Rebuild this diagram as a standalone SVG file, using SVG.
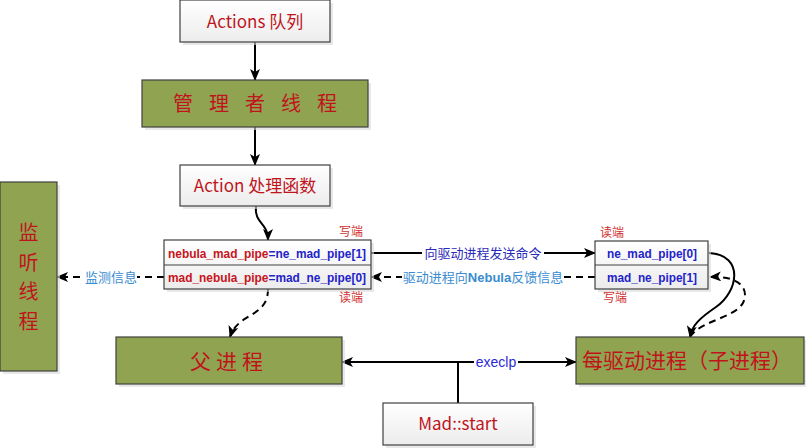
<svg xmlns="http://www.w3.org/2000/svg" width="806" height="448" viewBox="0 0 806 448">
<defs>
<linearGradient id="gw" x1="0" y1="0" x2="0" y2="1">
<stop offset="0" stop-color="#ffffff"/>
<stop offset="1" stop-color="#ececec"/>
</linearGradient>
<marker id="ah" markerWidth="12" markerHeight="10" refX="11" refY="5" orient="auto" markerUnits="userSpaceOnUse">
<path d="M0,0 L12,5 L0,10 L3,5 Z" fill="#000"/>
</marker>
</defs>
<style>
.wbox{fill:url(#gw);stroke:#404040;stroke-width:1.2}
.gbox{fill:#8fa351;stroke:#404040;stroke-width:1.2}
.shadow{fill:#d8d8d8;opacity:0.6}
.t{font-family:"Noto Sans CJK SC","Liberation Sans",sans-serif;fill:#c0141c}
.pipe{font-family:"Liberation Sans","Noto Sans CJK SC",sans-serif;font-weight:bold;font-size:12px}
.red{fill:#c8141c}
.blue{fill:#2323c8}
.lbl{font-family:"Noto Sans CJK SC",sans-serif;font-size:12px;fill:#d03030}
.ln{stroke:#000;stroke-width:2;fill:none}
.dash{stroke:#000;stroke-width:2;fill:none;stroke-dasharray:7,5}
</style>

<g id="connectors">
<line class="ln" x1="255" y1="42" x2="255" y2="80" marker-end="url(#ah)"/>
<line class="ln" x1="255" y1="127" x2="255" y2="165" marker-end="url(#ah)"/>
<path class="ln" d="M256,206 C254,224 268,222 268,240" marker-end="url(#ah)"/>
<path class="dash" d="M268,289 C268,318 238,312 230,337" marker-end="url(#ah)"/>
<line class="dash" x1="164" y1="277" x2="57" y2="277" marker-end="url(#ah)"/>
<line class="ln" x1="371" y1="253" x2="595" y2="253" marker-end="url(#ah)"/>
<line class="dash" x1="595" y1="277" x2="371" y2="277" marker-end="url(#ah)"/>
<path class="ln" d="M709,253 C745,255 738,292 716,307 C700,318 692,325 690,337" marker-end="url(#ah)"/>
<path class="dash" d="M690,337 C702,318 745,318 745,295 C745,282 730,276 710,277" marker-end="url(#ah)"/>
<line class="ln" x1="458" y1="362" x2="342" y2="362" marker-end="url(#ah)"/>
<line class="ln" x1="458" y1="362" x2="576" y2="362" marker-end="url(#ah)"/>
<line class="ln" x1="458" y1="362" x2="458" y2="403"/>
<rect x="85" y="268" width="52" height="18" fill="#fff"/>
<text x="111" y="281.5" font-family="Noto Sans CJK SC,sans-serif" font-size="13" fill="#3a8cd0" text-anchor="middle">监测信息</text>
<rect x="422" y="244" width="122" height="18" fill="#fff"/>
<text x="483" y="257.5" font-family="Noto Sans CJK SC,sans-serif" font-size="13" fill="#2a2ab8" text-anchor="middle">向驱动进程发送命令</text>
<rect x="402" y="268" width="162" height="18" fill="#fff"/>
<text x="483" y="281.5" font-family="Noto Sans CJK SC,sans-serif" font-size="13" fill="#3a8cd0" text-anchor="middle">驱动进程向<tspan font-family="Liberation Sans,sans-serif" font-weight="bold">Nebula</tspan>反馈信息</text>
<rect x="474" y="353" width="44" height="18" fill="#fff"/>
<text x="496" y="367" font-family="Liberation Sans,sans-serif" font-size="14" fill="#2a2ad8" text-anchor="middle">execlp</text>
</g>

<g id="actions-queue">
<rect class="shadow" x="183" y="3" width="150" height="42"/>
<rect class="wbox" x="180" y="0" width="150" height="42"/>
<text class="t" x="255" y="27.5" font-size="17" text-anchor="middle">Actions 队列</text>
</g>

<g id="manager-thread">
<rect class="shadow" x="145" y="83" width="226" height="47"/>
<rect class="gbox" x="142" y="80" width="226" height="47"/>
<text class="t" x="263" y="111" font-size="20" letter-spacing="16" text-anchor="middle">管理者线程</text>
</g>

<g id="action-handler">
<rect class="shadow" x="183" y="168" width="150" height="41"/>
<rect class="wbox" x="180" y="165" width="150" height="41"/>
<text class="t" x="255" y="192" font-size="17" text-anchor="middle">Action 处理函数</text>
</g>

<g id="monitor-thread">
<rect class="shadow" x="3" y="185" width="57" height="189"/>
<rect class="gbox" x="0" y="182" width="57" height="189"/>
<text class="t" font-size="20" text-anchor="middle"><tspan x="28.5" y="240">监</tspan><tspan x="28.5" y="269.5">听</tspan><tspan x="28.5" y="299">线</tspan><tspan x="28.5" y="328.5">程</tspan></text>
</g>

<g id="pipe-left">
<rect class="shadow" x="167" y="243" width="207" height="49"/>
<rect class="wbox" x="164" y="240" width="207" height="49"/>
<line x1="164" y1="265" x2="371" y2="265" stroke="#404040" stroke-width="1.2"/>
<text class="pipe" x="168" y="257.5" textLength="198" lengthAdjust="spacingAndGlyphs"><tspan class="red">nebula_mad_pipe</tspan><tspan class="blue">=ne_mad_pipe[1]</tspan></text>
<text class="pipe" x="168" y="281.5" textLength="198" lengthAdjust="spacingAndGlyphs"><tspan class="red">mad_nebula_pipe</tspan><tspan class="blue">=mad_ne_pipe[0]</tspan></text>
<text class="lbl" x="351" y="236" text-anchor="middle">写端</text>
<text class="lbl" x="351" y="302" text-anchor="middle">读端</text>
</g>

<g id="pipe-right">
<rect class="shadow" x="598" y="244" width="113" height="48"/>
<rect class="wbox" x="595" y="241" width="113" height="48"/>
<line x1="595" y1="265" x2="708" y2="265" stroke="#404040" stroke-width="1.2"/>
<text class="pipe blue" x="607" y="257.5" textLength="90" lengthAdjust="spacingAndGlyphs">ne_mad_pipe[0]</text>
<text class="pipe blue" x="607" y="281.5" textLength="90" lengthAdjust="spacingAndGlyphs">mad_ne_pipe[1]</text>
<text class="lbl" x="612" y="237" text-anchor="middle">读端</text>
<text class="lbl" x="615" y="302" text-anchor="middle">写端</text>
</g>

<g id="parent-process">
<rect class="shadow" x="119" y="340" width="226" height="47"/>
<rect class="gbox" x="116" y="337" width="226" height="47"/>
<text class="t" x="229" y="368.5" font-size="21" letter-spacing="5" text-anchor="middle">父进程</text>
</g>

<g id="driver-process">
<rect class="shadow" x="579" y="340" width="228" height="47"/>
<rect class="gbox" x="576" y="337" width="228" height="47"/>
<text class="t" x="687" y="368" font-size="21" text-anchor="middle">每驱动进程（子进程）</text>
</g>

<g id="mad-start">
<rect class="shadow" x="386" y="406" width="150" height="42"/>
<rect class="wbox" x="383" y="403" width="150" height="42"/>
<text class="t" x="458" y="430" font-size="17" text-anchor="middle">Mad::start</text>
</g>
</svg>
